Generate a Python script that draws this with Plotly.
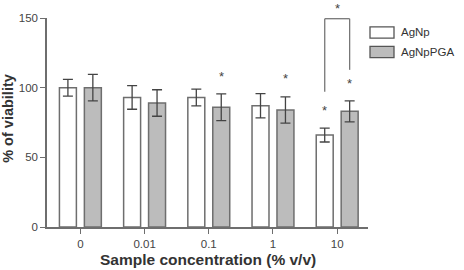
import plotly.graph_objects as go

categories = ["0", "0.01", "0.1", "1", "10"]
agnp = [100, 93, 93, 87, 66]
agnp_err = [6, 8.5, 6, 8.7, 5]
agnppga = [100, 89, 86, 84, 83]
agnppga_err = [9.5, 9.5, 9.6, 9.4, 7.5]
# significance stars: (category index, series, y)
stars = [(2, 1, 101), (3, 1, 100), (4, 0, 77), (4, 1, 96.5)]
bracket = {"cat": 4, "y_left": 97, "y_right": 112.8, "y_top": 149.5, "star_y": 155}

xs = list(range(len(categories)))
OFF = 0.194
line_col = "#6e6e6e"
err_col = "#444444"

fig = go.Figure()
fig.add_trace(go.Bar(
    x=xs, y=agnp, name="AgNp",
    marker=dict(color="white", line=dict(color=line_col, width=1.5)),
    error_y=dict(type="data", array=agnp_err, color=err_col, thickness=1.3, width=5),
))
fig.add_trace(go.Bar(
    x=xs, y=agnppga, name="AgNpPGA",
    marker=dict(color="#bcbcbc", line=dict(color=line_col, width=1.5)),
    error_y=dict(type="data", array=agnppga_err, color=err_col, thickness=1.3, width=5),
))

annotations = []
for ci, s, yv in stars:
    annotations.append(dict(x=ci + (OFF if s == 1 else -OFF), y=yv, xref="x", yref="y",
                            text="*", showarrow=False, font=dict(size=13, color="#444"),
                            yanchor="bottom"))
bc = bracket["cat"]
shapes = [
    dict(type="line", xref="x", yref="y", x0=bc - OFF, x1=bc - OFF, y0=bracket["y_left"], y1=bracket["y_top"],
         line=dict(color="#777", width=1.3)),
    dict(type="line", xref="x", yref="y", x0=bc - OFF, x1=bc + OFF, y0=bracket["y_top"], y1=bracket["y_top"],
         line=dict(color="#777", width=1.3)),
    dict(type="line", xref="x", yref="y", x0=bc + OFF, x1=bc + OFF, y0=bracket["y_right"], y1=bracket["y_top"],
         line=dict(color="#777", width=1.3)),
]
annotations.append(dict(x=bc, y=bracket["star_y"] - 5, xref="x", yref="y", text="*", showarrow=False,
                        font=dict(size=13, color="#444"), yanchor="bottom"))

# manual legend
names = ["AgNp", "AgNpPGA"]
fills = ["white", "#bcbcbc"]
pw = 321.0
ph = 214.0
for i, (nm, fc) in enumerate(zip(names, fills)):
    y0px = 21.7 + i * 20 - 12.7
    shapes.append(dict(type="rect", xref="paper", yref="paper",
                       x0=(370 - 47) / pw, x1=(394 - 47) / pw,
                       y0=1 - (y0px + 11.6) / ph, y1=1 - y0px / ph,
                       line=dict(color="#555", width=1.3), fillcolor=fc))
    annotations.append(dict(xref="paper", yref="paper", x=(399 - 47) / pw, y=1 - (y0px + 5.8) / ph,
                            text=nm, showarrow=False, xanchor="left", yanchor="middle",
                            font=dict(size=11.5, color="#333")))

annotations.append(dict(xref="paper", yref="paper", x=0.5, y=-0.206, text="<b>Sample concentration (% v/v)</b>",
                        showarrow=False, xanchor="center", yanchor="bottom",
                        font=dict(size=15.5, color="#333")))
annotations.append(dict(xref="paper", yref="paper", x=0, xshift=-38.5, y=0.52, text="<b>% of viability</b>",
                        showarrow=False, textangle=-90, xanchor="center", yanchor="middle",
                        font=dict(size=14.5, color="#333")))

fig.update_layout(
    width=464, height=270,
    margin=dict(l=47, r=96, t=13, b=43),
    plot_bgcolor="white", paper_bgcolor="white",
    barmode="group", bargap=0.223, bargroupgap=0.32,
    showlegend=False,
    font=dict(family="Liberation Sans, Arial, sans-serif", size=11, color="#444"),
    shapes=shapes, annotations=annotations,
    xaxis=dict(range=[-0.52, 4.48], tickvals=xs, ticktext=categories, showline=True,
               linecolor=line_col, linewidth=1.5, ticks="outside", ticklen=5, tickcolor=line_col,
               showgrid=False, zeroline=False, tickfont=dict(size=11.5, color="#444")),
    yaxis=dict(range=[0, 150], tickvals=[0, 50, 100, 150], showline=True, linecolor=line_col,
               linewidth=1.5, ticks="outside", ticklen=5, tickcolor=line_col, showgrid=False,
               zeroline=False, tickfont=dict(size=11.5, color="#444")),
)
fig.write_html("out.html")
